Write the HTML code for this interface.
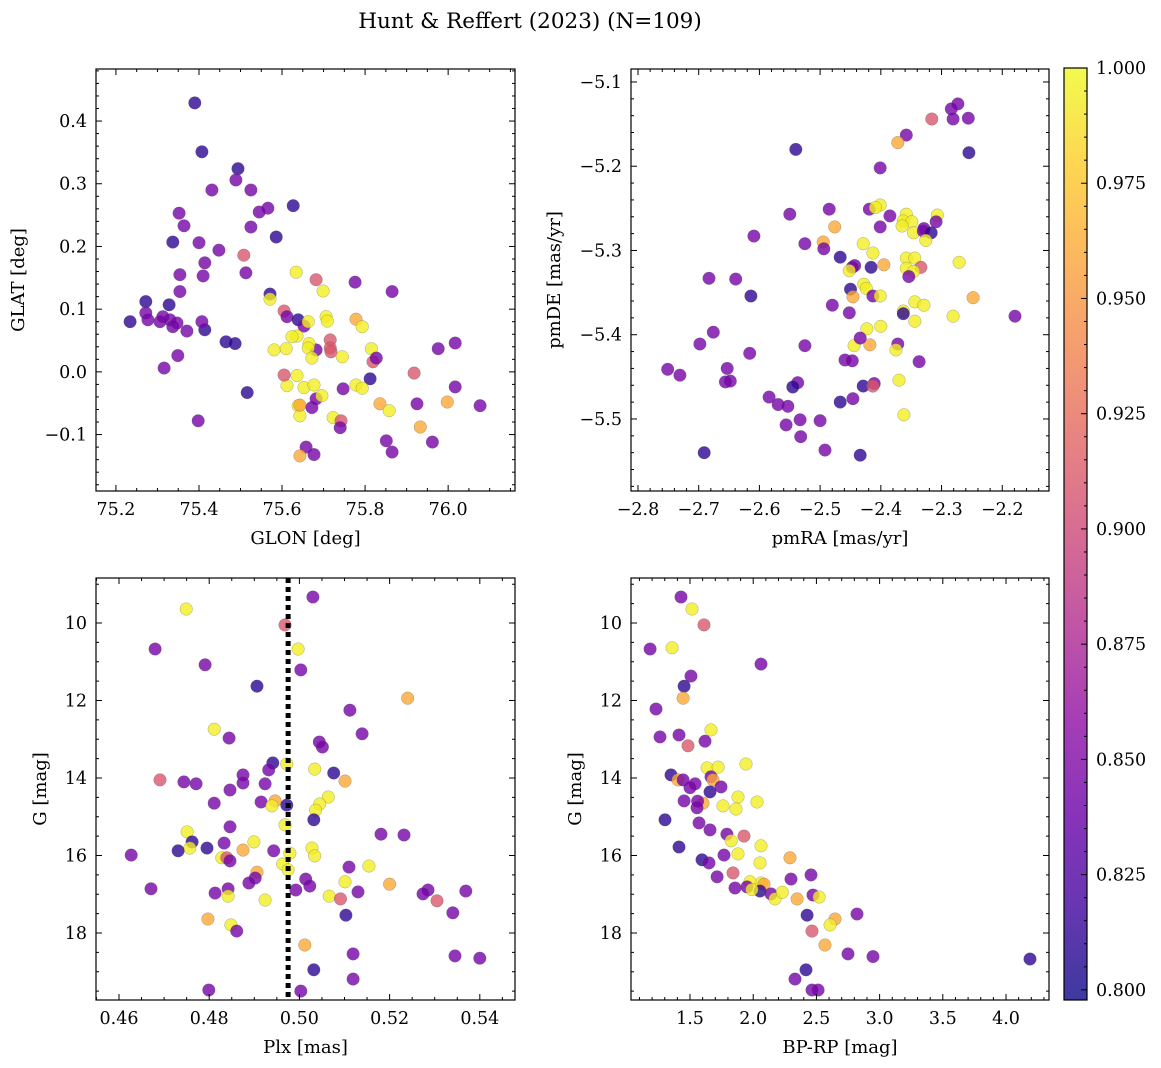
<!DOCTYPE html>
<html><head><meta charset="utf-8"><style>
html,body{margin:0;padding:0;background:#fff;}
svg{display:block;font-family:"DejaVu Serif","Liberation Serif",serif;}
</style></head><body>
<svg id="fig" width="1161" height="1068" viewBox="0 0 1161 1068" xmlns="http://www.w3.org/2000/svg">
<text x="530" y="28" text-anchor="middle" font-size="21.5">Hunt &amp; Reffert (2023) (N=109)</text>
</svg>
<script>
// ---------- DATA ----------
const D=0.81,P=0.845,K=0.91,O=0.96,Y=0.995;
const glon=[75.390,75.407,75.494,75.489,75.566,75.627,75.525,75.431,75.525,75.545,75.352,75.364,75.337,75.400,75.448,75.508,75.414,75.354,75.410,75.354,75.513,75.586,75.571,75.234,75.272,75.328,75.414,75.272,75.277,75.306,75.313,75.330,75.337,75.347,75.371,75.407,75.465,75.487,75.349,75.316,75.516,75.398,75.571,75.605,75.612,75.634,75.639,75.653,75.636,75.663,75.682,75.699,75.706,75.709,75.716,75.716,75.718,75.682,75.665,75.663,75.672,75.581,75.610,75.624,75.612,75.636,75.653,75.605,75.639,75.643,75.643,75.672,75.682,75.696,75.747,75.677,75.776,75.778,75.793,75.745,75.819,75.815,75.827,75.812,75.865,75.723,75.742,75.740,75.778,75.793,75.836,75.858,75.851,75.865,75.918,75.925,75.933,75.962,75.976,76.017,76.017,75.998,76.077,75.658,75.677,75.643];
const glat=[0.429,0.351,0.324,0.306,0.261,0.265,0.290,0.290,0.231,0.255,0.253,0.233,0.207,0.206,0.194,0.186,0.174,0.155,0.153,0.128,0.158,0.215,0.124,0.080,0.112,0.107,0.067,0.094,0.083,0.080,0.088,0.083,0.072,0.078,0.065,0.080,0.048,0.045,0.026,0.006,-0.033,-0.078,0.116,0.097,0.088,0.159,0.083,0.073,0.057,0.080,0.147,0.129,0.088,0.081,0.051,0.038,0.032,0.035,0.045,0.038,0.022,0.035,0.037,0.056,-0.022,-0.006,-0.025,-0.005,-0.054,-0.070,-0.053,-0.057,-0.043,-0.038,-0.027,-0.021,0.143,0.084,0.072,0.024,0.016,0.037,0.022,-0.011,0.128,-0.073,-0.078,-0.089,-0.021,-0.026,-0.051,-0.062,-0.110,-0.128,-0.002,-0.051,-0.088,-0.112,0.037,0.046,-0.024,-0.048,-0.054,-0.120,-0.132,-0.134];
const prob1=[D,D,D,P,P,D,P,P,P,P,P,P,D,P,P,K,P,P,P,P,P,D,D,D,D,D,D,P,P,P,P,P,P,P,P,P,D,D,P,P,D,P,Y,K,P,Y,D,P,Y,Y,K,Y,Y,Y,K,K,K,P,Y,Y,Y,Y,Y,Y,Y,Y,Y,K,Y,Y,O,P,P,Y,P,Y,P,O,Y,Y,K,Y,P,D,P,Y,K,P,Y,Y,O,Y,P,P,K,P,O,P,P,P,P,O,P,P,P,O];

const pmra=[-2.273,-2.284,-2.256,-2.281,-2.316,-2.358,-2.372,-2.255,-2.540,-2.401,-2.485,-2.419,-2.401,-2.409,-2.385,-2.358,-2.363,-2.349,-2.307,-2.329,-2.309,-2.365,-2.476,-2.401,-2.346,-2.330,-2.317,-2.326,-2.495,-2.550,-2.609,-2.525,-2.429,-2.413,-2.494,-2.467,-2.395,-2.358,-2.344,-2.334,-2.271,-2.443,-2.447,-2.416,-2.452,-2.358,-2.346,-2.354,-2.428,-2.424,-2.450,-2.446,-2.413,-2.401,-2.683,-2.639,-2.614,-2.480,-2.452,-2.344,-2.329,-2.363,-2.363,-2.344,-2.281,-2.248,-2.179,-2.423,-2.400,-2.418,-2.444,-2.525,-2.434,-2.372,-2.676,-2.698,-2.616,-2.337,-2.375,-2.459,-2.447,-2.751,-2.731,-2.653,-2.656,-2.648,-2.537,-2.545,-2.370,-2.411,-2.429,-2.413,-2.362,-2.584,-2.569,-2.553,-2.467,-2.446,-2.556,-2.533,-2.500,-2.532,-2.492,-2.691,-2.434];
const pmde=[-5.126,-5.132,-5.143,-5.144,-5.144,-5.163,-5.172,-5.184,-5.180,-5.202,-5.251,-5.251,-5.246,-5.249,-5.259,-5.257,-5.265,-5.266,-5.258,-5.274,-5.266,-5.271,-5.272,-5.272,-5.279,-5.277,-5.279,-5.288,-5.290,-5.257,-5.283,-5.292,-5.292,-5.303,-5.298,-5.308,-5.317,-5.309,-5.309,-5.320,-5.314,-5.318,-5.320,-5.320,-5.324,-5.321,-5.325,-5.331,-5.340,-5.345,-5.346,-5.355,-5.354,-5.354,-5.333,-5.334,-5.354,-5.365,-5.374,-5.361,-5.365,-5.372,-5.375,-5.384,-5.378,-5.356,-5.378,-5.393,-5.390,-5.412,-5.413,-5.413,-5.404,-5.411,-5.397,-5.411,-5.422,-5.432,-5.418,-5.430,-5.431,-5.441,-5.448,-5.440,-5.456,-5.455,-5.457,-5.462,-5.454,-5.458,-5.461,-5.461,-5.495,-5.474,-5.483,-5.485,-5.480,-5.476,-5.507,-5.501,-5.502,-5.521,-5.537,-5.540,-5.543];
const prob2=[P,P,P,P,K,P,O,D,D,P,P,P,Y,Y,P,Y,Y,Y,Y,P,P,Y,O,P,Y,P,D,Y,O,P,P,P,Y,Y,P,D,O,Y,Y,K,Y,P,P,D,Y,Y,Y,P,Y,Y,D,O,P,Y,P,P,D,P,P,Y,Y,Y,D,Y,Y,O,P,Y,Y,O,Y,P,P,P,P,P,P,P,Y,P,P,P,P,P,P,P,P,D,Y,P,D,K,Y,P,P,P,D,P,P,P,P,P,P,D,D];

const plx=[0.4749,0.5030,0.4968,0.4997,0.4680,0.4791,0.5003,0.4906,0.5240,0.5112,0.4811,0.4844,0.5139,0.5044,0.5051,0.4941,0.4972,0.4932,0.5034,0.5076,0.4875,0.4875,0.4691,0.4744,0.4771,0.5101,0.4924,0.4846,0.5064,0.5045,0.4811,0.4915,0.4946,0.4939,0.4972,0.5036,0.5032,0.4968,0.4751,0.4846,0.4762,0.4757,0.4833,0.4899,0.4875,0.4795,0.4731,0.5028,0.4979,0.4943,0.4627,0.5034,0.5181,0.5232,0.4828,0.4839,0.4846,0.4963,0.4975,0.5110,0.5154,0.5014,0.5023,0.4906,0.4902,0.4888,0.5101,0.5200,0.4671,0.4842,0.4992,0.5130,0.4813,0.4842,0.4924,0.5066,0.5091,0.5285,0.5274,0.5305,0.5369,0.5103,0.5340,0.4797,0.4848,0.4861,0.5012,0.5119,0.5345,0.5400,0.5032,0.5119,0.4799,0.5003];
const gmag3=[9.64,9.33,10.05,10.67,10.67,11.08,11.21,11.63,11.94,12.25,12.74,12.97,12.86,13.07,13.20,13.61,13.64,13.79,13.77,13.87,13.92,14.13,14.05,14.10,14.15,14.08,14.15,14.31,14.49,14.67,14.65,14.62,14.59,14.72,14.70,14.83,15.08,15.21,15.39,15.26,15.65,15.81,15.68,15.65,15.86,15.81,15.88,15.81,15.94,15.88,15.99,16.01,15.45,15.47,16.06,16.06,16.14,16.22,16.37,16.30,16.27,16.61,16.79,16.43,16.58,16.71,16.68,16.74,16.86,16.86,16.89,16.94,16.97,17.05,17.15,17.05,17.12,16.89,16.99,17.17,16.92,17.54,17.48,17.64,17.79,17.95,18.31,18.54,18.59,18.65,18.95,19.19,19.47,19.50];
const prob3=[Y,P,K,Y,P,P,P,D,O,P,Y,P,P,P,P,D,Y,P,Y,D,P,P,K,P,P,O,P,P,Y,Y,P,P,O,Y,D,Y,D,Y,Y,P,D,Y,P,Y,O,D,D,Y,Y,P,P,Y,P,P,Y,K,P,Y,Y,P,Y,P,P,O,P,P,Y,O,P,P,P,P,P,Y,Y,Y,K,P,P,K,P,D,P,O,Y,P,O,P,P,P,D,P,P,P];

const bprp=[1.429,1.516,1.611,1.184,1.358,2.062,1.508,1.453,1.445,1.231,1.666,1.263,1.413,1.619,1.484,1.943,1.635,1.722,1.350,1.666,1.682,1.405,1.445,1.540,1.745,1.880,1.658,1.453,1.761,1.864,1.603,2.030,1.555,1.302,1.571,1.658,1.792,1.413,1.927,2.062,1.595,1.650,1.880,1.769,2.054,1.714,1.840,2.062,1.975,2.085,1.856,1.951,2.054,2.141,2.172,2.299,2.291,2.457,2.347,2.473,2.521,2.426,2.647,2.608,2.821,2.465,2.568,2.750,2.948,4.190,2.418,2.331,2.465,2.513,1.825,1.990,2.230,1.500,1.560];
const gmag4=[9.33,9.64,10.05,10.67,10.64,11.06,11.37,11.63,11.94,12.22,12.76,12.94,12.89,13.05,13.17,13.64,13.74,13.72,13.92,13.97,14.05,14.05,14.05,14.15,14.23,14.49,14.36,14.59,14.72,14.80,14.65,14.62,14.77,15.08,15.16,15.34,15.45,15.78,15.50,15.75,16.11,16.19,15.96,15.99,16.19,16.55,16.45,16.71,16.68,16.74,16.84,16.81,16.92,16.99,17.12,16.61,16.06,16.50,17.12,17.02,17.07,17.54,17.64,17.79,17.51,17.95,18.31,18.54,18.61,18.67,18.95,19.19,19.47,19.47,15.62,16.88,16.95,14.25,14.60];
const prob4=[P,Y,K,P,Y,P,P,D,O,P,Y,P,P,P,K,Y,Y,Y,D,P,O,O,P,P,P,Y,D,P,Y,Y,O,Y,P,D,P,P,P,D,K,Y,D,P,Y,P,Y,P,K,Y,Y,O,P,P,D,P,Y,P,O,P,O,P,Y,D,O,Y,P,K,O,P,P,D,D,P,P,P,Y,Y,Y,P,P];

const plxLine=0.4975;
const cbTicks=[0.800,0.825,0.850,0.875,0.900,0.925,0.950,0.975,1.000];
const vmin=0.7978,vmax=1.0;

// ---------- HELPERS ----------
const NS="http://www.w3.org/2000/svg";
const svg=document.getElementById('fig');
const TF=17.5, LF=18;
function mk(tag,attrs,parent){const e=document.createElementNS(NS,tag);for(const k in attrs)e.setAttribute(k,attrs[k]);(parent||svg).appendChild(e);return e;}
const stops=[[13,8,135],[65,4,157],[106,0,168],[143,13,164],[177,42,144],[204,71,120],[225,100,98],[242,132,75],[252,166,54],[252,206,37],[240,249,33]];
function plasma(t){t=Math.max(0,Math.min(1,t));const f=t*10,i=Math.min(9,Math.floor(f)),u=f-i;const a=stops[i],b=stops[i+1];
return `rgb(${Math.round(a[0]+(b[0]-a[0])*u)},${Math.round(a[1]+(b[1]-a[1])*u)},${Math.round(a[2]+(b[2]-a[2])*u)})`;}
function fmt(v,d){const s=v.toFixed(d);return s.replace('-','\u2212');}

function panel(o){
  const g=mk('g',{});
  
  
  const sx=v=>o.x0+(v-o.xd[0])/(o.xd[1]-o.xd[0])*(o.x1-o.x0);
  const sy=v=>o.inv? o.y0+(v-o.yd[0])/(o.yd[1]-o.yd[0])*(o.y1-o.y0) : o.y1-(v-o.yd[0])/(o.yd[1]-o.yd[0])*(o.y1-o.y0);
  const pg=mk('g',{},g);
  
  
  for(let i=0;i<o.xs.length;i++){
    const c=mk('circle',{cx:sx(o.xs[i]).toFixed(1),cy:sy(o.ys[i]).toFixed(1),r:6.3,fill:plasma((o.cs[i]-vmin)/(vmax-vmin)),'fill-opacity':0.8,stroke:'#555','stroke-width':0.4,'stroke-opacity':0.6},pg);
    
    
  }
  if(o.vline!==undefined){
    const l=mk('line',{x1:sx(o.vline),x2:sx(o.vline),y1:o.y0,y2:o.y1,stroke:'#000','stroke-width':5,'stroke-dasharray':'5,4'},g);
    
    
  }
  const fr=mk('rect',{x:o.x0,y:o.y0,width:o.x1-o.x0,height:o.y1-o.y0,fill:'none',stroke:'#000','stroke-width':1.2},g);
  
  
  const xt=mk('g',{},g);
  
  
  const eps=1e-9;
  for(let v=Math.ceil(o.xd[0]/o.xmin-eps)*o.xmin; v<=o.xd[1]+eps; v+=o.xmin){
    const X=sx(v);const maj=Math.abs(v/o.xmaj-Math.round(v/o.xmaj))<1e-4;const L=maj?6:3;
    mk('line',{x1:X,x2:X,y1:o.y1,y2:o.y1-L,stroke:'#000','stroke-width':1},xt);
    mk('line',{x1:X,x2:X,y1:o.y0,y2:o.y0+L,stroke:'#000','stroke-width':1},xt);
    if(maj){const t=mk('text',{x:X,y:o.y1+24,'text-anchor':'middle','font-size':TF},xt);t.textContent=fmt(Math.round(v/o.xmaj)*o.xmaj,o.xdec);
      }
  }
  const yt=mk('g',{},g);
  
  
  const lo=Math.min(o.yd[0],o.yd[1]),hi=Math.max(o.yd[0],o.yd[1]);
  for(let v=Math.ceil(lo/o.ymin-eps)*o.ymin; v<=hi+eps; v+=o.ymin){
    const Y=sy(v);const maj=Math.abs(v/o.ymaj-Math.round(v/o.ymaj))<1e-4;const L=maj?6:3;
    mk('line',{x1:o.x0,x2:o.x0+L,y1:Y,y2:Y,stroke:'#000','stroke-width':1},yt);
    mk('line',{x1:o.x1,x2:o.x1-L,y1:Y,y2:Y,stroke:'#000','stroke-width':1},yt);
    if(maj){const t=mk('text',{x:o.x0-9,y:Y+6,'text-anchor':'end','font-size':TF},yt);t.textContent=fmt(Math.round(v/o.ymaj)*o.ymaj,o.ydec);
      }
  }
  const xl=mk('text',{x:(o.x0+o.x1)/2,y:o.y1+53,'text-anchor':'middle','font-size':LF},g);xl.textContent=o.xlabel;
  
  const yl=mk('text',{x:o.ylx,y:(o.y0+o.y1)/2,'text-anchor':'middle','font-size':LF,transform:`rotate(-90 ${o.ylx} ${(o.y0+o.y1)/2})`},g);yl.textContent=o.ylabel;
  
}

panel({name:'glon-glat-panel',x0:96,x1:515,y0:69,y1:491,xd:[75.152,76.161],yd:[-0.190,0.483],xs:glon,ys:glat,cs:prob1,xmaj:0.2,xmin:0.05,ymaj:0.1,ymin:0.02,xdec:1,ydec:1,xlabel:'GLON [deg]',ylabel:'GLAT [deg]',ylx:24});
panel({name:'proper-motion-panel',x0:631,x1:1049,y0:69,y1:491,xd:[-2.8115,-2.123],yd:[-5.5855,-5.0846],xs:pmra,ys:pmde,cs:prob2,xmaj:0.1,xmin:0.02,ymaj:0.1,ymin:0.02,xdec:1,ydec:1,xlabel:'pmRA [mas/yr]',ylabel:'pmDE [mas/yr]',ylx:560});
panel({name:'parallax-magnitude-panel',x0:96,x1:515,y0:578,y1:1000,xd:[0.4549,0.5478],yd:[8.839,19.729],inv:true,xs:plx,ys:gmag3,cs:prob3,xmaj:0.02,xmin:0.005,ymaj:2,ymin:0.5,xdec:2,ydec:0,xlabel:'Plx [mas]',ylabel:'G [mag]',ylx:46,vline:plxLine});
panel({name:'color-magnitude-panel',x0:631,x1:1049,y0:578,y1:1000,xd:[1.0332,4.340],yd:[8.839,19.729],inv:true,xs:bprp,ys:gmag4,cs:prob4,xmaj:0.5,xmin:0.1,ymaj:2,ymin:0.5,xdec:1,ydec:0,xlabel:'BP-RP [mag]',ylabel:'G [mag]',ylx:581});

const cb=mk('g',{});


const defs=mk('defs',{},cb);
const lg=mk('linearGradient',{id:'cbg',x1:0,y1:1,x2:0,y2:0},defs);
for(let i=0;i<=20;i++){mk('stop',{offset:i/20,'stop-color':plasma(i/20)},lg);}
const cbx0=1064,cbx1=1087,cby0=68,cby1=1000;
mk('rect',{x:cbx0,y:cby0,width:cbx1-cbx0,height:cby1-cby0,fill:'url(#cbg)','fill-opacity':0.8},cb);
mk('rect',{x:cbx0,y:cby0,width:cbx1-cbx0,height:cby1-cby0,fill:'none',stroke:'#000','stroke-width':1.2},cb);
const cy=v=>cby1-(v-vmin)/(vmax-vmin)*(cby1-cby0);
for(let k=0;k<=40;k++){const v=0.8+k*0.005;if(v>vmax+1e-9)break;const Y=cy(v);const maj=k%5===0;
  mk('line',{x1:cbx1,x2:cbx1-(maj?6:3),y1:Y,y2:Y,stroke:'#000','stroke-width':1},cb);}
for(let i=0;i<cbTicks.length;i++){
  const t=mk('text',{x:1096,y:cy(cbTicks[i])+6,'font-size':TF},cb);t.textContent=cbTicks[i].toFixed(3);
  
}
</script>
</body></html>
